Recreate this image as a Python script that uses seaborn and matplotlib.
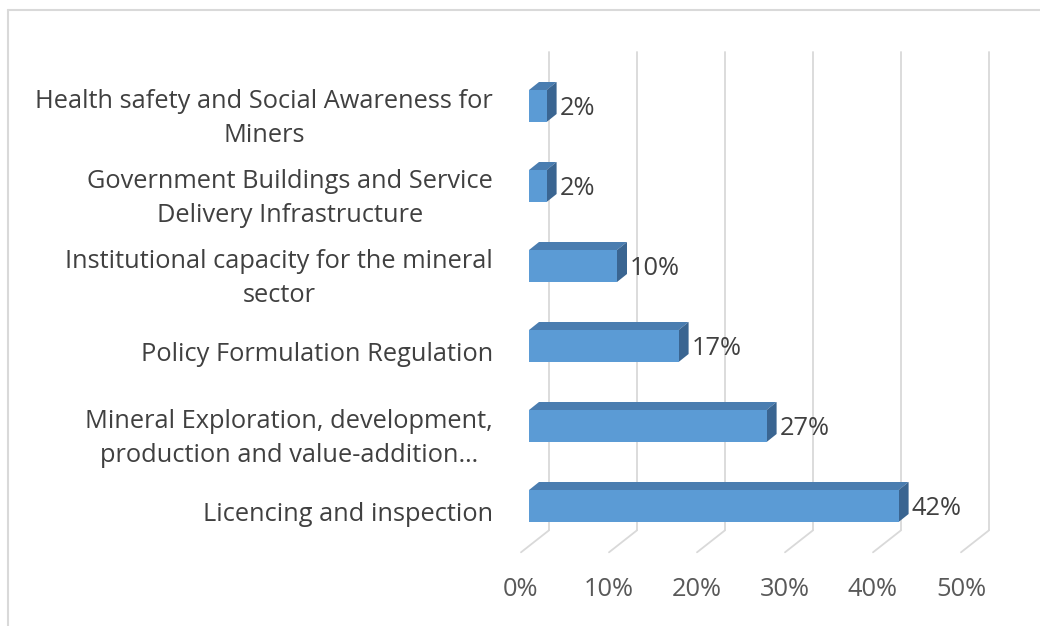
import matplotlib
matplotlib.use("Agg")
import matplotlib.pyplot as plt
import seaborn as sns
from matplotlib.patches import Polygon
from matplotlib.lines import Line2D
from matplotlib.transforms import ScaledTranslation

# Data
categories = [
    "Health safety and Social Awareness for\nMiners",
    "Government Buildings and Service\nDelivery Infrastructure",
    "Institutional capacity for the mineral\nsector",
    "Policy Formulation Regulation",
    "Mineral Exploration, development,\nproduction and value-addition…",
    "Licencing and inspection",
]
values = [2, 2, 10, 17, 27, 42]
ticks = [0, 10, 20, 30, 40, 50]
tick_labels = ["0%", "10%", "20%", "30%", "40%", "50%"]

sns.set_style("white")
plt.rcParams["font.family"] = ["Open Sans", "DejaVu Sans"]

W, H = 1040, 626
fig = plt.figure(figsize=(W / 100, H / 100), dpi=100)

# axes placed in pixels: x 8.8 px per %, 80 px per category
px_per_x = 8.8
px_per_y = 80
x0_px, top_px = 529, 50
xmax, ymin, ymax = 52, -0.7, 6.3
ax = fig.add_axes([x0_px / W, 1 - (top_px + (ymax - ymin) * px_per_y) / H,
                   xmax * px_per_x / W, (ymax - ymin) * px_per_y / H])

front = "#5B9BD5"
top_c = "#4A7DB0"
side_c = "#3A6591"
grid_c = "#D9D9D9"
fs = 18.3

sns.barplot(x=values, y=categories, orient="h", color=front, width=0.4,
            linewidth=0, saturation=1, ax=ax, zorder=3)
ax.set_xlim(0, xmax)
ax.set_ylim(ymax, ymin)

# 3d depth offsets in data units
bdx, bdy = 10 / px_per_x, -8 / px_per_y
wdx, wdy = 20 / px_per_x, -15.7 / px_per_y
fdx, fdy = -8 / px_per_x, 6.3 / px_per_y
floor_y = 5.5
wall_top = (52 - 106) / px_per_y

# back wall gridlines + floor
for t, lab in zip(ticks, tick_labels):
    ax.plot([t + wdx, t + wdx], [wall_top, floor_y + wdy], color=grid_c,
            lw=1.3, zorder=0, clip_on=False)
    ax.plot([t + wdx, t + fdx], [floor_y + wdy, floor_y + fdy], color=grid_c,
            lw=1.3, zorder=0, clip_on=False)
    ax.text(t + fdx, floor_y + 43 / px_per_y, lab, ha="center", va="center",
            fontsize=fs, color="#595959", clip_on=False)

# top and side faces of the bars
hh = 0.2
for i, v in enumerate(values):
    top_face = [(0, i - hh), (v, i - hh), (v + bdx, i - hh + bdy), (bdx, i - hh + bdy)]
    side_face = [(v, i - hh), (v, i + hh), (v + bdx, i + hh + bdy), (v + bdx, i - hh + bdy)]
    ax.add_patch(Polygon(top_face, closed=True, fc=top_c, ec="none", zorder=2, clip_on=False))
    ax.add_patch(Polygon(side_face, closed=True, fc=side_c, ec="none", zorder=2, clip_on=False))
    ax.text(v + bdx + 3 / px_per_x, i + 0.03, f"{v}%", ha="left", va="center",
            fontsize=fs, color="#404040", clip_on=False)

# category labels
ax.tick_params(axis="y", length=0, pad=26, labelsize=fs, labelcolor="#404040")
ax.set_xticks([])
ax.set_xlabel("")
ax.set_ylabel("")
for lab in ax.get_yticklabels():
    lab.set_multialignment("center")
    lab.set_linespacing(1.45)
    lab.set_transform(lab.get_transform() + ScaledTranslation(0, -5.5 / 100, fig.dpi_scale_trans))
sns.despine(ax=ax, left=True, bottom=True)

# outer chart frame
fig.add_artist(Line2D([8 / W, 1], [1 - 10 / H, 1 - 10 / H], color=grid_c, lw=1.5))
fig.add_artist(Line2D([8 / W, 8 / W], [0, 1 - 10 / H], color=grid_c, lw=1.5))

fig.savefig("out.png", dpi=100)
